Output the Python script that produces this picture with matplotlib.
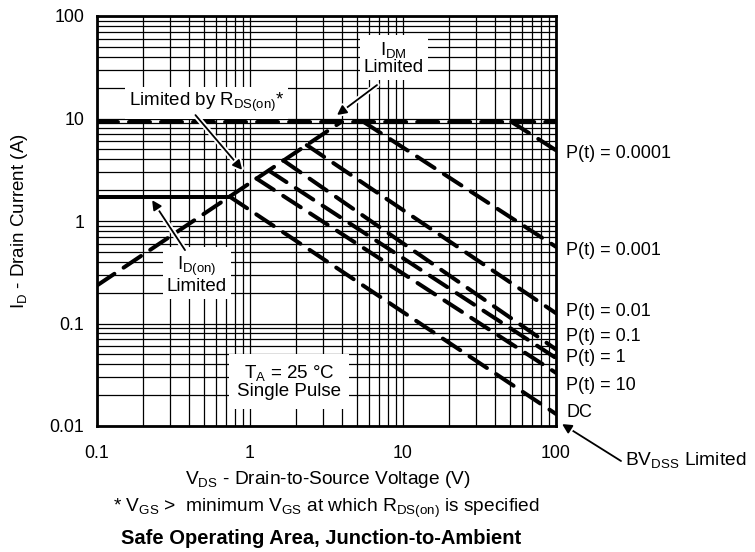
import numpy as np
import matplotlib.pyplot as plt
from matplotlib import patheffects as pe
from matplotlib.ticker import NullFormatter
from matplotlib.transforms import blended_transform_factory

plt.rcParams['font.family'] = ['Liberation Sans', 'DejaVu Sans']
plt.rcParams['mathtext.fontset'] = 'custom'
plt.rcParams['mathtext.rm'] = 'Liberation Sans'
plt.rcParams['mathtext.it'] = 'Liberation Sans:italic'
plt.rcParams['mathtext.bf'] = 'Liberation Sans:bold'
plt.rcParams['mathtext.default'] = 'regular'

# limit lines (V, A)
rds_v = [0.1, 3.96]
rds_i = [0.235, 9.3]
idm_v = [0.1, 100]
idm_i = [9.3, 9.3]
idon_v = [0.1, 0.736]
idon_i = [1.73, 1.73]

# pulse curves: start on a limit line, end at V = 100
pulse_names = ['P(t) = 0.0001', 'P(t) = 0.001', 'P(t) = 0.01', 'P(t) = 0.1',
               'P(t) = 1', 'P(t) = 10', 'DC']
pulse_v0 = [51, 5.5, 2.35, 1.65, 1.33, 1.1, 0.736]
pulse_i0 = [9.3, 9.3, 5.5, 3.9, 3.1, 2.6, 1.73]
pulse_i1 = [4.9, 0.56, 0.126, 0.056, 0.046, 0.033, 0.0131]
label_i = [4.6, 0.52, 0.13, 0.074, 0.047, 0.025, 0.0134]

xticks = [0.1, 1, 10, 100]
xticklabels = ['0.1', '1', '10', '100']
yticks = [0.01, 0.1, 1, 10, 100]
yticklabels = ['0.01', '0.1', '1', '10', '100']

W, H = 755, 552
fig = plt.figure(figsize=(W / 100, H / 100), dpi=100)
ax = fig.add_axes([97 / W, 1 - 426 / H, 459 / W, 410 / H])
ax.set_xscale('log')
ax.set_yscale('log')
ax.set_xlim(0.1, 100)
ax.set_ylim(0.01, 100)
ax.grid(True, which='both', color='k', lw=0.9)
ax.set_axisbelow(True)
ax.set_xticks(xticks, xticklabels)
ax.set_yticks(yticks, yticklabels)
ax.xaxis.set_minor_formatter(NullFormatter())
ax.yaxis.set_minor_formatter(NullFormatter())
ax.tick_params(which='both', length=0, labelsize=12.8)
ax.tick_params(axis='x', pad=14)
ax.tick_params(axis='y', pad=9)
for s in ax.spines.values():
    s.set_linewidth(2)

dash = dict(color='k', lw=2.9, ls=(0, (5.2, 2.75)), dash_capstyle='round', zorder=4)
ax.plot(rds_v, rds_i, **dash)
ax.plot(idm_v, idm_i, **dash)
ax.plot(idon_v, idon_i, color='k', lw=2.9, zorder=4, solid_capstyle='butt')
for v0, i0, i1 in zip(pulse_v0, pulse_i0, pulse_i1):
    ax.plot([v0, 100], [i0, i1], **dash)

tr = blended_transform_factory(ax.transAxes, ax.transData)
for name, yi in zip(pulse_names, label_i):
    ax.text(1.022, yi, name, transform=tr, fontsize=13, va='center', ha='left')

box = dict(facecolor='white', edgecolor='none', pad=3)
halo = [pe.withStroke(linewidth=4, foreground='white')]
arrow = dict(arrowstyle='-|>', color='k', lw=1.3, mutation_scale=14,
             shrinkA=0, shrinkB=0, path_effects=halo)

ax.text(8.7, 39, '$I_{DM}$\nLimited', fontsize=13.5, ha='center', va='center',
        bbox=box, zorder=3, linespacing=0.95)
ax.annotate('', xy=(3.7, 10.8), xytext=(6.76, 21.2), arrowprops=arrow, zorder=5)

ax.text(0.52, 14.2, 'Limited by $R_{DS(on)}$*', fontsize=13.5, ha='center',
        va='center', bbox=box, zorder=3)
ax.annotate('', xy=(0.89, 3.15), xytext=(0.44, 10.8), arrowprops=arrow, zorder=5)

ax.text(0.45, 0.297, '$I_{D(on)}$\nLimited', fontsize=13.5, ha='center',
        va='center', bbox=box, zorder=3, linespacing=0.95)
ax.annotate('', xy=(0.229, 1.6), xytext=(0.376, 0.52), arrowprops=arrow, zorder=5)

ax.text(1.8, 0.027, '$T_A$ = 25 °C\nSingle Pulse', fontsize=13.5, ha='center',
        va='center', bbox=dict(facecolor='white', edgecolor='none', pad=6),
        zorder=3, linespacing=1.0)

fig.text(625 / W, 1 - 460 / H, '$BV_{DSS}$ Limited', fontsize=13.8, va='center', ha='left')
ax.annotate('', xy=(562 / W, 1 - 424 / H), xytext=(621 / W, 1 - 461 / H),
            xycoords='figure fraction', textcoords='figure fraction',
            arrowprops=arrow, annotation_clip=False)

ax.set_ylabel('$I_D$ - Drain Current (A)', fontsize=13.5, labelpad=14)
fig.text(328 / W, 1 - 480 / H, '$V_{DS}$ - Drain-to-Source Voltage (V)',
         fontsize=13.8, ha='center', va='center')
fig.text(326 / W, 1 - 508 / H,
         '* $V_{GS}$ >  minimum $V_{GS}$ at which $R_{DS(on)}$ is specified',
         fontsize=13.8, ha='center', va='center')
fig.text(321 / W, 1 - 538 / H, 'Safe Operating Area, Junction-to-Ambient',
         fontsize=14.5, fontweight='bold', ha='center', va='center')

fig.savefig('out.png', dpi=100)
